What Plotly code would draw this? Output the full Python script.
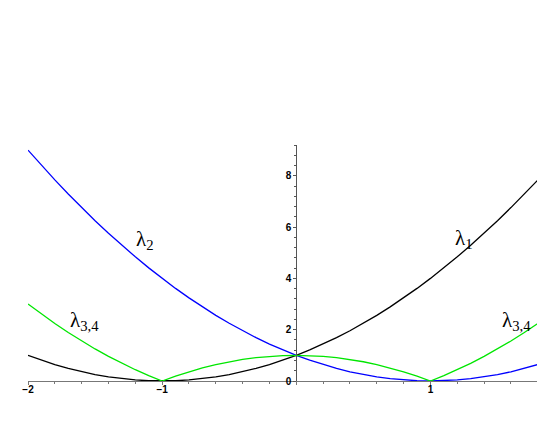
import plotly.graph_objects as go

# sample points
x_vals = [-2.0, -1.9, -1.8, -1.7, -1.6, -1.5, -1.4, -1.3, -1.2, -1.1,
          -1.0, -0.9, -0.8, -0.7, -0.6, -0.5, -0.4, -0.3, -0.2, -0.1,
          0.0, 0.1, 0.2, 0.3, 0.4, 0.5, 0.6, 0.7, 0.8, 0.9,
          1.0, 1.1, 1.2, 1.3, 1.4, 1.5, 1.6, 1.7, 1.8, 1.85]

lambda1 = [1.0, 0.81, 0.64, 0.49, 0.36, 0.25, 0.16, 0.09, 0.04, 0.01,
           0.0, 0.01, 0.04, 0.09, 0.16, 0.25, 0.36, 0.49, 0.64, 0.81,
           1.0, 1.21, 1.44, 1.69, 1.96, 2.25, 2.56, 2.89, 3.24, 3.61,
           4.0, 4.41, 4.84, 5.29, 5.76, 6.25, 6.76, 7.29, 7.84, 8.1]

lambda2 = [9.0, 8.41, 7.84, 7.29, 6.76, 6.25, 5.76, 5.29, 4.84, 4.41,
           4.0, 3.61, 3.24, 2.89, 2.56, 2.25, 1.96, 1.69, 1.44, 1.21,
           1.0, 0.81, 0.64, 0.49, 0.36, 0.25, 0.16, 0.09, 0.04, 0.01,
           0.0, 0.01, 0.04, 0.09, 0.16, 0.25, 0.36, 0.49, 0.64, 0.72]

lambda34 = [3.0, 2.61, 2.24, 1.89, 1.56, 1.25, 0.96, 0.69, 0.44, 0.21,
            0.0, 0.19, 0.36, 0.51, 0.64, 0.75, 0.84, 0.91, 0.96, 0.99,
            1.0, 0.99, 0.96, 0.91, 0.84, 0.75, 0.64, 0.51, 0.36, 0.19,
            0.0, 0.21, 0.44, 0.69, 0.96, 1.25, 1.56, 1.89, 2.24, 2.42]

x_ticks = [-2, -1, 0, 1]
x_ticktext = ["\u22122", "\u22121", "", "1"]
y_ticks = [0, 2, 4, 6, 8]

x_range = [-2.0, 1.854]
y_range = [0, 9.2]

fig = go.Figure()
fig.add_trace(go.Scatter(x=x_vals, y=lambda1, mode="lines",
                         line=dict(color="black", width=1.3)))
fig.add_trace(go.Scatter(x=x_vals, y=lambda2, mode="lines",
                         line=dict(color="#0000ff", width=1.3)))
fig.add_trace(go.Scatter(x=x_vals, y=lambda34, mode="lines",
                         line=dict(color="#00e600", width=1.3)))

lab_font = dict(family="Liberation Serif", size=21, color="black")
labels = [(1.25, 5.55, "\u03bb<sub>1</sub>"),
          (-1.13, 5.5, "\u03bb<sub>2</sub>"),
          (-1.58, 2.35, "\u03bb<sub>3,4</sub>"),
          (1.645, 2.35, "\u03bb<sub>3,4</sub>")]
for lx, ly, txt in labels:
    fig.add_annotation(x=lx, y=ly, text=txt, showarrow=False, font=lab_font)

ypos = (0 - x_range[0]) / (x_range[1] - x_range[0])
tick_font = dict(family="Liberation Sans", size=10, color="black", weight="bold")

# page body adds an 8px offset, margins compensate for it
fig.update_layout(
    width=545, height=436,
    margin=dict(l=20, r=8, t=137, b=63),
    plot_bgcolor="white", paper_bgcolor="white",
    showlegend=False,
    font=dict(family="Liberation Sans", size=10, color="black"),
    xaxis=dict(range=x_range, tickmode="array", tickvals=x_ticks,
               ticktext=x_ticktext, showgrid=False, zeroline=False,
               automargin=False, tickfont=tick_font, ticklabelstandoff=-4,
               showline=True, linecolor="#777", linewidth=1.2,
               ticks="outside", ticklen=3, tickcolor="#777",
               minor=dict(tickmode="linear", tick0=0, dtick=0.2,
                          ticks="outside", ticklen=2, tickcolor="#777")),
    yaxis=dict(range=y_range, tickmode="array", tickvals=y_ticks,
               anchor="free", position=ypos, showgrid=False,
               automargin=False, tickfont=tick_font,
               zeroline=False, showline=True, linecolor="#555",
               linewidth=1.2, ticks="outside", ticklen=3, tickcolor="#555",
               minor=dict(tickmode="linear", tick0=0, dtick=0.4,
                          ticks="outside", ticklen=2, tickcolor="#555")),
)

fig.write_html("out.html")
